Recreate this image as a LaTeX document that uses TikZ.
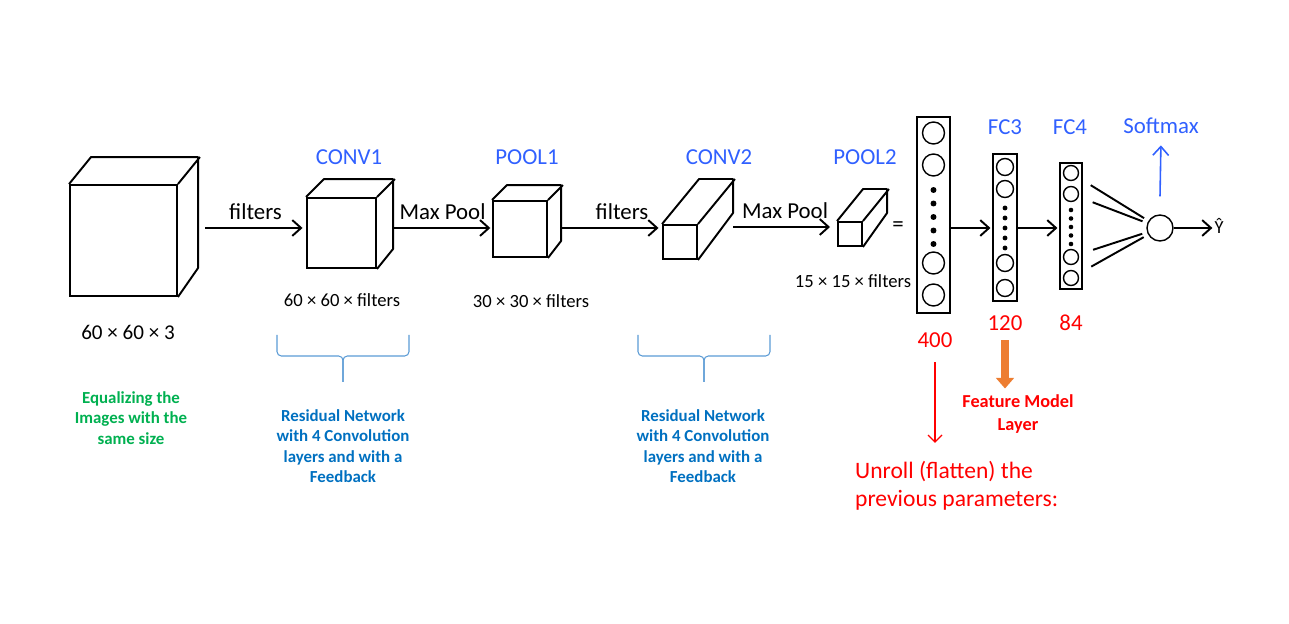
\documentclass[tikz,border=0pt]{standalone}
\usepackage{fontspec}
\setmainfont{Carlito}
\usetikzlibrary{arrows.meta, positioning, calc}
\definecolor{layerblue}{RGB}{48,96,255}
\definecolor{notegreen}{RGB}{0,176,80}
\definecolor{noteblue}{RGB}{0,112,192}
\definecolor{bracecol}{RGB}{91,155,213}
\definecolor{featorange}{RGB}{237,125,49}
\tikzset{>={Straight Barb[length=5pt,width=9pt]}}
\tikzset{
  face/.style={draw, line width=1.1pt, inner sep=0pt},
  edge/.style={line width=1.1pt, line join=round},
  flow/.style={->, line width=1.1pt},
  arrowlbl/.style={font=\fontsize{13}{15}\selectfont},
  layer/.style={text=layerblue, font=\fontsize{13}{15}\selectfont},
  dims/.style={font=\fontsize{10.6}{13}\selectfont},
  units/.style={text=red, font=\fontsize{13}{15}\selectfont},
  col/.style={draw, line width=0.9pt, inner sep=0pt},
  neuron/.style={draw, circle, line width=0.8pt, inner sep=0pt},
  note/.style={align=center, font=\bfseries\fontsize{9.6}{11.6}\selectfont},
  brace/.style={draw=bracecol, line width=0.6pt, rounded corners=2.5pt},
}

\begin{document}
\begin{tikzpicture}[x=0.02cm, y=-0.02cm]
        \useasboundingbox (0,0) rectangle (1289,624);

        % cubes
        \node[face, minimum width=2.14cm, minimum height=2.22cm] (img) at (123.5,240.5) {};
        \draw[edge] (img.north west) -- ++(22,-27) -- ++(107,0) -- ++(0,111) -- (img.south east);
        \draw[edge] (img.north east) -- ++(22,-27);

        \node[face, minimum width=1.38cm, minimum height=1.40cm] (conv1) at (341.5,233) {};
        \draw[edge] (conv1.north west) -- ++(18,-18) -- ++(69,0) -- ++(0,70) -- (conv1.south east);
        \draw[edge] (conv1.north east) -- ++(18,-18);

        \node[face, minimum width=1.08cm, minimum height=1.12cm] (pool1) at (520,229) {};
        \draw[edge] (pool1.north west) -- ++(15,-15) -- ++(54,0) -- ++(0,56) -- (pool1.south east);
        \draw[edge] (pool1.north east) -- ++(15,-15);

        \node[face, minimum width=0.68cm, minimum height=0.68cm] (conv2) at (680,242) {};
        \draw[edge] (conv2.north west) -- ++(37,-45) -- ++(34,0) -- ++(0,34) -- (conv2.south east);
        \draw[edge] (conv2.north east) -- ++(37,-45);

        \node[face, minimum width=0.48cm, minimum height=0.48cm] (pool2) at (850,234) {};
        \draw[edge] (pool2.north west) -- ++(26,-32) -- ++(24,0) -- ++(0,24) -- (pool2.south east);
        \draw[edge] (pool2.north east) -- ++(26,-32);

        % layer names
        \node[layer] (tconv1) at (349,157) {CONV1};
        \node[layer] (tpool1) at (527,157) {POOL1};
        \node[layer] (tconv2) at (719,157) {CONV2};
        \node[layer] (tpool2) at (865,157) {POOL2};
        \node[layer] (tfc3) at (1005,127) {FC3};
        \node[layer] (tfc4) at (1070,127) {FC4};
        \node[layer] (soft) at (1161,126) {Softmax};

        % sizes
        \node[font=\fontsize{12}{14}\selectfont] (d0) at (128,332) {60 × 60 × 3};
        \node[dims] (d1) at (342,300) {60 × 60 × filters};
        \node[dims] (d2) at (531,301) {30 × 30 × filters};
        \node[dims] (d3) at (853,281) {15 × 15 × filters};
        \node[arrowlbl] (eq) at (898,227) {=};

        % arrows between the blocks
        \coordinate (s1) at (205,228);
        \coordinate (s2) at (393,228);
        \coordinate (s3) at (562,228);
        \coordinate (s4) at (733,227);
        \draw[flow, shorten >=2pt] (s1) -- (s1 -| conv1.west) node[arrowlbl, midway, above=1pt] {filters};
        \draw[flow, shorten >=1pt] (s2) -- (s2 -| pool1.west) node[arrowlbl, midway, above=1pt] {Max Pool};
        \draw[flow, shorten >=2pt] (s3) -- (s3 -| conv2.west) node[arrowlbl, pos=0.6, above=1pt] {filters};
        \draw[flow, shorten >=4pt] (s4) -- (s4 -| pool2.west) node[arrowlbl, midway, above=1pt] {Max Pool};

        % flatten column
        \node[col, minimum width=0.66cm, minimum height=3.92cm] (fc0) at (933.5,215) {};
        \node[neuron, minimum size=0.44cm] (u1) at (933.5,133) {};
        \node[neuron, minimum size=0.44cm] (u2) at (933.5,165) {};
        \node[neuron, minimum size=0.44cm] (u3) at (933.5,263) {};
        \node[neuron, minimum size=0.44cm] (u4) at (933.5,295) {};
        \foreach \y in {190,203.5,217,230.5,244}
            \fill (933.5,\y) circle (1.7pt);

        % FC3
        \node[col, minimum width=0.48cm, minimum height=2.94cm] (fc3) at (1005,227.5) {};
        \node[neuron, minimum size=0.34cm] (v1) at (1005,167) {};
        \node[neuron, minimum size=0.34cm] (v2) at (1005,189) {};
        \node[neuron, minimum size=0.34cm] (v3) at (1005,263) {};
        \node[neuron, minimum size=0.34cm] (v4) at (1005,288) {};
        \foreach \y in {208,218,228,238,248}
            \fill (1005,\y) circle (1.4pt);

        % FC4
        \node[col, minimum width=0.44cm, minimum height=2.52cm] (fc4) at (1071,226) {};
        \node[neuron, minimum size=0.30cm] (w1) at (1071,173) {};
        \node[neuron, minimum size=0.30cm] (w2) at (1071,194) {};
        \node[neuron, minimum size=0.30cm] (w3) at (1071,257) {};
        \node[neuron, minimum size=0.30cm] (w4) at (1071,278) {};
        \foreach \y in {210,218.5,227,235.5,244}
            \fill (1071,\y) circle (1.3pt);

        % output
        \node[neuron, minimum size=0.52cm] (out) at (1160,228) {};
        \node[inner sep=1pt, font=\fontsize{10.5}{12}\selectfont] (yhat) at (1219,226) {\^Y};

        \draw[flow, shorten >=1pt] (fc0.east |- out) -- (fc3.west |- out);
        \draw[flow, shorten >=1pt] (fc3.east |- out) -- (fc4.west |- out);
        \draw[flow] (out) -- (yhat.west |- out);
        \foreach \n in {w1,w2,w3,w4}
            \draw[line width=1.1pt, shorten <=0.3cm, shorten >=0.1cm] (\n) -- (out);
        \draw[->, layerblue, line width=0.9pt, shorten >=3pt] ($(out.north)+(0,-18)$) -- (soft.south);

        % counts
        \node[units] (n400) at (935,340) {400};
        \node[units] (n120) at (1005,323) {120};
        \node[units] (n84) at (1071,323) {84};

        \node[note, text=red, font=\bfseries\fontsize{10.4}{13}\selectfont] (fml) at (1018,414) {Feature Model\\Layer};
        \node[anchor=west, align=left, text=red, font=\fontsize{13.4}{16}\selectfont] (unroll) at (849,486) {Unroll (flatten) the\\previous parameters:};

        \draw[featorange, line width=4.5pt, -{Triangle[length=6pt,width=10pt]}, shorten <=2pt] (n120.south) -- (n120.south |- fml.north);
        \draw[red, line width=0.7pt, -{Straight Barb[length=4pt,width=8pt]}, shorten <=5pt, shorten >=7pt] (n400.south) -- (n400.south |- unroll.north);

        % braces
        \draw[brace] (277,335) -- (277,356) -- (343,356) -- (343,382);
        \draw[brace] (409,335) -- (409,356) -- (343,356) -- (343,382);
        \draw[brace] (638,335) -- (638,356) -- (704,356) -- (704,382);
        \draw[brace] (770,335) -- (770,356) -- (704,356) -- (704,382);

        % notes
        \node[note, text=notegreen] (eqz) at (131,418) {Equalizing the\\Images with the\\same size};
        \node[note, text=noteblue] (res1) at (343,446) {Residual Network\\with 4 Convolution\\layers and with a\\Feedback};
        \node[note, text=noteblue] (res2) at (703,446) {Residual Network\\with 4 Convolution\\layers and with a\\Feedback};
\end{tikzpicture}
\end{document}
